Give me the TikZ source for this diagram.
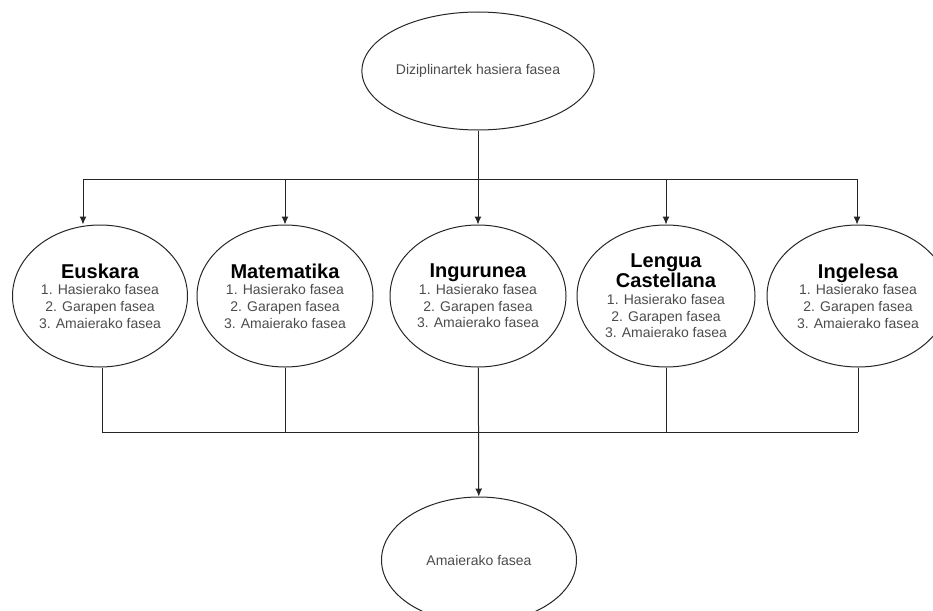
\documentclass[tikz,border=0pt]{standalone}
\usepackage{fontspec}
\setmainfont{Liberation Sans}
\usetikzlibrary{arrows.meta,shapes.geometric}

\begin{document}
\begin{tikzpicture}[x=1pt,y=-1pt]
\tikzset{phase/.style = {shape=ellipse,draw=black!85,line width=1pt,inner sep=0pt,
  align=center,text=black!70,font=\fontsize{14}{16.7}\selectfont}}
\tikzset{edge/.style = {->,> = {Latex[length=8pt,width=7pt]},line width=1pt,draw=black!85}}
\tikzset{link/.style = {line width=1pt,draw=black!85}}
\newcommand{\subj}[1]{{\fontsize{20}{24}\selectfont\bfseries\color{black}#1}}
\newcommand{\steps}{1. Hasierako fasea\\2. Garapen fasea\\3. Amaierako fasea}
\useasboundingbox (0,0) rectangle (933,610);
% vertices
\node[phase,minimum width=190pt,minimum height=118pt] (start) at (478,71) {Diziplinartek hasiera fasea};
\node[phase,minimum width=175pt,minimum height=142pt] (eus) at (100,296) {\subj{Euskara}\\\steps};
\node[phase,minimum width=176pt,minimum height=142pt] (mat) at (285,296) {\subj{Matematika}\\\steps};
\node[phase,minimum width=176pt,minimum height=142pt] (ing) at (478,296) {\subj{Ingurunea}\\\steps};
\node[phase,minimum width=178pt,minimum height=142pt] (lcas) at (666,296) {\subj{Lengua}\\\subj{Castellana}\\\steps};
\node[phase,minimum width=182pt,minimum height=142pt] (eng) at (858,296) {\subj{Ingelesa}\\\steps};
\node[phase,minimum width=195pt,minimum height=126pt] (end) at (479,560) {Amaierako fasea};
% bus points
\coordinate (tl) at (83,179);
\coordinate (tr) at (857,179);
\coordinate (bl) at (102,432);
\coordinate (br) at (858,432);
%edges
\draw[link] (start) -- (start |- tl);
\draw[link] (tl) -- (tr);
\draw[edge] (tl) -- (tl |- eus.north);
\draw[edge] (mat |- tl) -- (mat);
\draw[edge] (ing |- tl) -- (ing);
\draw[edge] (lcas |- tl) -- (lcas);
\draw[edge] (tr) -- (tr |- eng.north);
\draw[link] (eus.south -| bl) -- (bl);
\draw[link] (mat) -- (mat |- bl);
\draw[link] (lcas) -- (lcas |- bl);
\draw[link] (eng.south -| br) -- (br);
\draw[link] (bl) -- (br);
\draw[edge] (ing) -- (end);
\end{tikzpicture}
\end{document}
